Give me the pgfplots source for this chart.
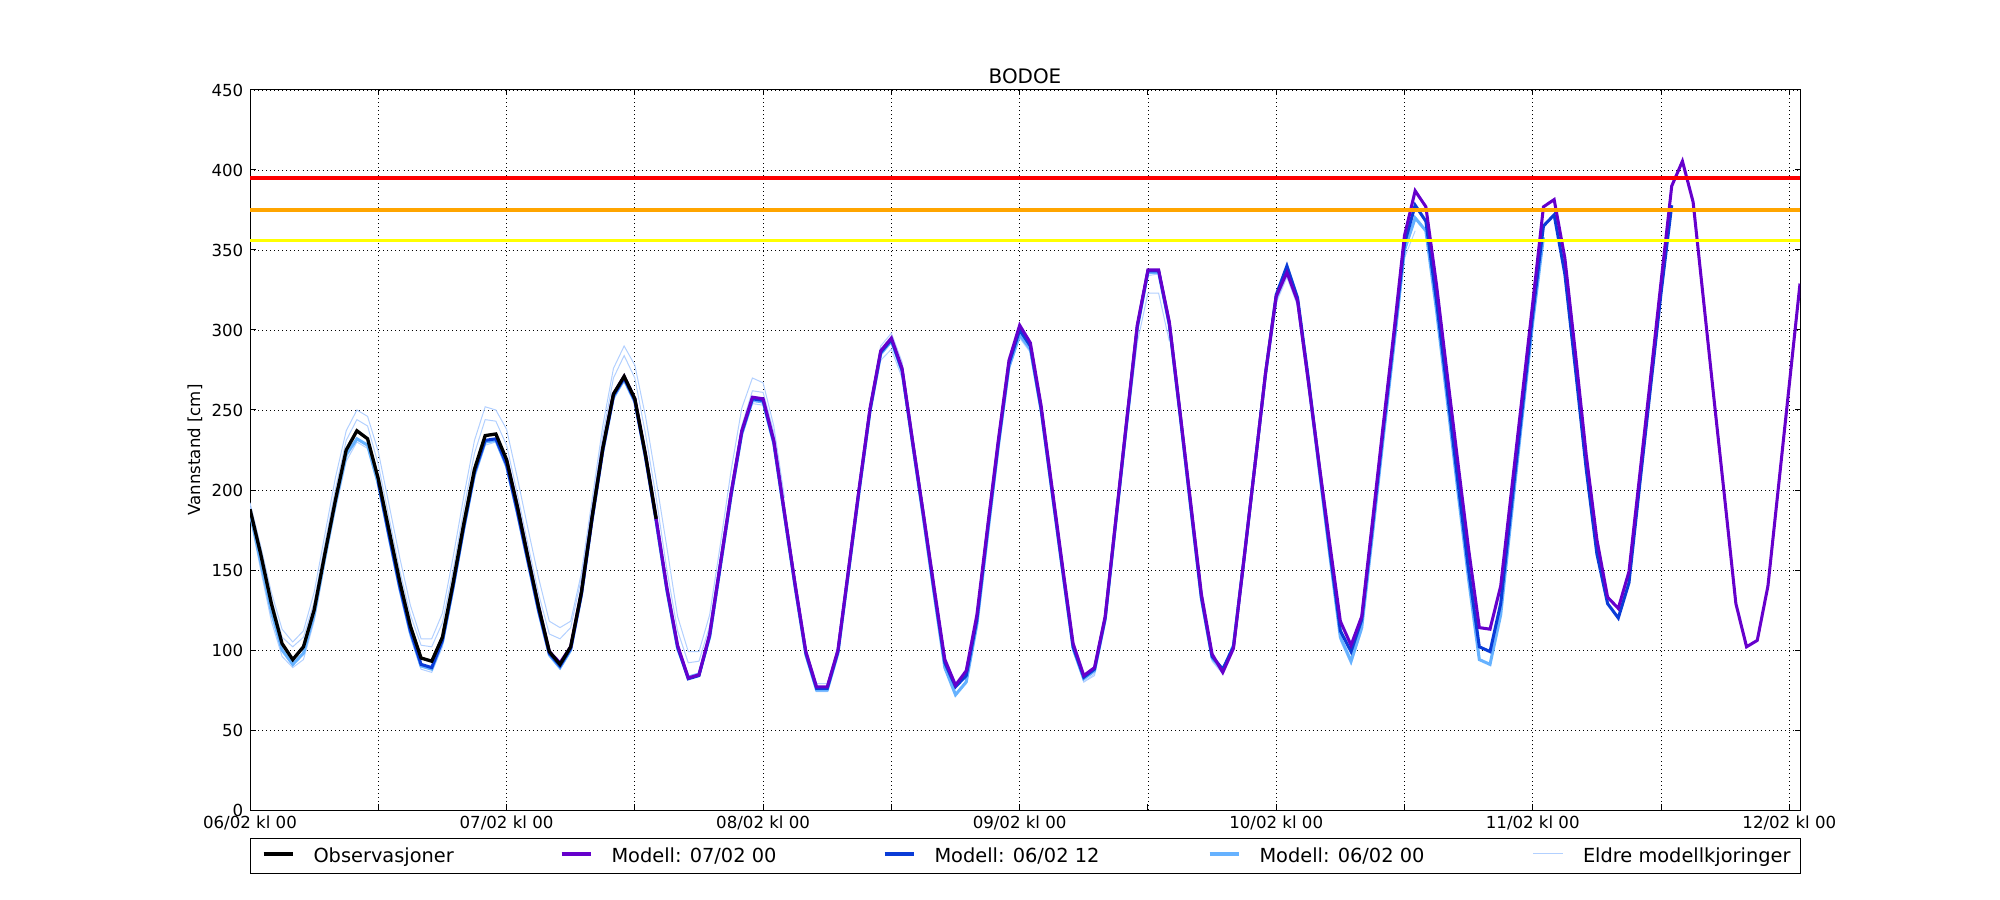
\documentclass[border=0pt]{standalone}
\usepackage{fontspec}
\setmainfont{DejaVu Sans}
\usepackage{pgfplots}
\pgfplotsset{compat=1.18}
\definecolor{cpurple}{RGB}{102,0,204}
\definecolor{cblue}{RGB}{10,60,215}
\definecolor{clight}{RGB}{102,178,255}
\definecolor{cold}{RGB}{178,208,255}
\definecolor{corange}{RGB}{255,165,0}
\definecolor{cyellow}{RGB}{255,255,0}
\begin{document}
\begin{tikzpicture}
\path[use as bounding box] (0,0) rectangle (20in,9in);
\begin{axis}[
  at={(2.5in,0.9in)}, anchor=south west,
  scale only axis, width=15.5in, height=7.2in,
  xmin=0, xmax=145, ymin=0, ymax=450,
  xtick={0,12,...,144},
  xticklabels={06/02 kl 00,,07/02 kl 00,,08/02 kl 00,,09/02 kl 00,,10/02 kl 00,,11/02 kl 00,,12/02 kl 00},
  ytick={0,50,...,450},
  tick align=inside,
  major tick length=0.055in,
  tick style={black, line width=0.72pt},
  axis line style={black, line width=0.72pt},
  grid=major,
  major grid style={black, line width=0.5pt, dash pattern=on 0.72pt off 2.2pt},
  tick label style={font=\fontsize{12}{14}\selectfont},
  /pgf/number format/assume math mode=true,
  yticklabel style={inner sep=0pt, xshift=-0.065in},
  xticklabel style={inner sep=0pt, yshift=-0.06in},
  title={BODOE},
  title style={at={(0.5,1)}, anchor=base, inner sep=0pt, yshift=-0.02in, font=\fontsize{14.4}{17}\selectfont},
  ylabel={Vannstand [cm]},
  ylabel style={at={(axis description cs:-0.0355,0.5)}, anchor=center, font=\fontsize{12}{14}\selectfont},
  legend columns=5,
  legend style={at={(0,0)}, anchor=north west, yshift=-0.28in, draw=black, line width=0.72pt,
    inner xsep=0pt, inner ysep=0pt, column sep=0pt,
    /tikz/every even column/.style={column sep=0pt},
    /tikz/every odd column/.style={column sep=0pt},
    cells={anchor=base west},
    nodes={inner sep=0pt, text height=0.24in, text depth=0.11in, font=\fontsize{14}{16}\selectfont}},
  legend image code/.code={\path[draw=none,fill=none] (-0.13in,0) -- (0.50in,0); \draw[#1] (0in,0.085in) -- (0.295in,0.085in);},
]
% legend entries (order as in reference)
\addlegendimage{black, line width=2.4pt}
\addlegendentry{\makebox[2.35in][l]{Observasjoner}}
\addlegendimage{cpurple, line width=2.2pt}
\addlegendentry{\makebox[2.60in][l]{Modell: 07/02 00}}
\addlegendimage{cblue, line width=2.2pt}
\addlegendentry{\makebox[2.62in][l]{Modell: 06/02 12}}
\addlegendimage{clight, line width=2.2pt}
\addlegendentry{\makebox[2.605in][l]{Modell: 06/02 00}}
\addlegendimage{cold, line width=0.72pt}
\addlegendentry{\makebox[2.17in][l]{Eldre modellkjoringer}}

% older model runs
\addplot[cold, line width=0.72pt, forget plot] coordinates {
(0,192) (1,165) (2,136) (3,113) (4,105) (5,112) (6,136) (7,172) (8,208) (9,237) (10,250) (11,246)
(12,224) (13,191) (14,158) (15,128) (16,107) (17,107) (18,123) (19,158) (20,196) (21,231) (22,252) (23,250)
(24,238) (25,208) (26,176) (27,145) (28,118) (29,114) (30,118) (31,148) (32,194) (33,240) (34,276) (35,290)
(36,278) (37,246) (38,206) (39,164) (40,121) (41,99) (42,99) (43,122) (44,166) (45,212) (46,251) (47,270)
(48,267) (49,240) (50,195)};
\addplot[cold, line width=0.72pt, forget plot] coordinates {
(0,190) (1,162) (2,132) (3,108) (4,102) (5,108) (6,130) (7,166) (8,201) (9,231) (10,244) (11,240)
(12,216) (13,183) (14,150) (15,122) (16,103) (17,102) (18,117) (19,150) (20,188) (21,223) (22,244) (23,243)
(24,228) (25,198) (26,166) (27,135) (28,110) (29,107) (30,114) (31,145) (32,190) (33,234) (34,270) (35,284)
(36,270) (37,235) (38,195) (39,150) (40,112) (41,92) (42,93) (43,115) (44,158) (45,202) (46,240) (47,262)
(48,261) (49,236) (50,190) (51,144) (52,101) (53,79) (54,79) (55,102) (56,152) (57,204) (58,254) (59,290)
(60,298) (61,280) (62,234) (63,188) (64,141) (65,96) (66,79) (67,86) (68,121) (69,176) (70,230) (71,280)
(72,300) (73,289) (74,250) (75,200) (76,150) (77,101) (78,80) (79,84) (80,117) (81,177) (82,236) (83,292)
(84,323) (85,323) (86,293)};
\addplot[cold, line width=0.72pt, forget plot] coordinates {
(0,184) (1,150) (2,118) (3,96) (4,89) (5,94) (6,118) (7,154) (8,188) (9,218) (10,230) (11,226)
(12,202) (13,168) (14,136) (15,108) (16,88) (17,86) (18,102) (19,136) (20,173) (21,207) (22,228) (23,230)
(24,213) (25,184) (26,153) (27,122) (28,96) (29,88) (30,99) (31,133) (32,179) (33,222) (34,256) (35,270)
(36,254) (37,219) (38,179) (39,136) (40,100) (41,82) (42,84) (43,107) (44,151) (45,195) (46,233) (47,254)
(48,253) (49,227) (50,182) (51,137) (52,96) (53,74) (54,74) (55,97) (56,148) (57,199) (58,248) (59,281)
(60,288) (61,270) (62,226) (63,180) (64,133) (65,88) (66,73) (67,79) (68,115) (69,170) (70,225) (71,275)
(72,295) (73,286) (74,248) (75,198) (76,148) (77,99) (78,80) (79,85) (80,118) (81,179) (82,240) (83,300)
(84,334) (85,335) (86,302) (87,246) (88,188) (89,131) (90,93) (91,85) (92,102) (93,157) (94,214) (95,270)
(96,317) (97,333) (98,315) (99,265) (100,211) (101,157) (102,106) (103,91) (104,112) (105,170) (106,229) (107,287)
(108,345) (109,362)};

% Modell 06/02 00
\addplot[clight, line width=2.2pt, forget plot] coordinates {
(0,186) (1,155) (2,124) (3,100) (4,91) (5,98) (6,122) (7,158) (8,192) (9,222) (10,232) (11,228)
(12,204) (13,171) (14,139) (15,111) (16,90) (17,88) (18,105) (19,139) (20,176) (21,210) (22,230) (23,231)
(24,215) (25,186) (26,155) (27,124) (28,97) (29,89) (30,100) (31,134) (32,181) (33,224) (34,258) (35,269)
(36,255) (37,220) (38,180) (39,137) (40,101) (41,83) (42,85) (43,108) (44,152) (45,196) (46,235) (47,256)
(48,255) (49,229) (50,184) (51,139) (52,97) (53,75) (54,75) (55,98) (56,149) (57,200) (58,249) (59,285)
(60,293) (61,274) (62,228) (63,182) (64,135) (65,89) (66,72) (67,80) (68,116) (69,172) (70,227) (71,277)
(72,297) (73,288) (74,250) (75,200) (76,150) (77,101) (78,82) (79,87) (80,119) (81,180) (82,241) (83,301)
(84,336) (85,336) (86,303) (87,247) (88,189) (89,132) (90,95) (91,87) (92,103) (93,158) (94,215) (95,272)
(96,320) (97,337) (98,318) (99,268) (100,214) (101,160) (102,108) (103,93) (104,114) (105,172) (106,232) (107,290)
(108,350) (109,370) (110,362) (111,312) (112,256) (113,199) (114,144) (115,94) (116,91) (117,122) (118,184) (119,245)
(120,305) (121,358)};

% Modell 06/02 12
\addplot[cblue, line width=2.2pt, forget plot] coordinates {
(12,205) (13,172) (14,140) (15,112) (16,91) (17,89) (18,106) (19,140) (20,177) (21,211) (22,231) (23,232)
(24,216) (25,187) (26,156) (27,125) (28,98) (29,90) (30,101) (31,135) (32,182) (33,225) (34,259) (35,270)
(36,256) (37,221) (38,181) (39,138) (40,102) (41,82) (42,84) (43,109) (44,153) (45,197) (46,236) (47,257)
(48,256) (49,230) (50,185) (51,140) (52,98) (53,76) (54,76) (55,99) (56,150) (57,201) (58,250) (59,286)
(60,294) (61,275) (62,229) (63,184) (64,137) (65,92) (66,77) (67,84) (68,119) (69,175) (70,229) (71,279)
(72,300) (73,290) (74,251) (75,201) (76,151) (77,102) (78,83) (79,88) (80,120) (81,181) (82,242) (83,302)
(84,337) (85,337) (86,304) (87,248) (88,190) (89,133) (90,96) (91,88) (92,102) (93,157) (94,215) (95,273)
(96,322) (97,340) (98,320) (99,270) (100,216) (101,163) (102,112) (103,99) (104,119) (105,177) (106,237) (107,295)
(108,354) (109,378) (110,368) (111,318) (112,262) (113,205) (114,150) (115,102) (116,99) (117,129) (118,190) (119,250)
(120,310) (121,365) (122,372) (123,335) (124,275) (125,213) (126,160) (127,129) (128,120) (129,142) (130,203) (131,263)
(132,323) (133,378)};

% Modell 07/02 00
\addplot[cpurple, line width=2.2pt, forget plot] coordinates {
(24,219) (25,190) (26,158) (27,127) (28,99) (29,92) (30,102) (31,136) (32,183) (33,226) (34,260) (35,271)
(36,257) (37,222) (38,182) (39,139) (40,103) (41,82.5) (42,84.5) (43,110) (44,154) (45,198) (46,237) (47,258)
(48,257) (49,231) (50,186) (51,141) (52,99) (53,77) (54,77) (55,100) (56,151) (57,202) (58,251) (59,287)
(60,295) (61,276) (62,230) (63,185) (64,139) (65,94) (66,78) (67,87) (68,122) (69,177) (70,231) (71,281)
(72,303) (73,292) (74,253) (75,203) (76,153) (77,104) (78,84) (79,89) (80,121) (81,182) (82,243) (83,303)
(84,337.5) (85,337.5) (86,305) (87,249) (88,192) (89,135) (90,97.5) (91,86) (92,101) (93,158) (94,215) (95,273)
(96,321) (97,336) (98,318) (99,268) (100,217) (101,167) (102,118) (103,103) (104,121) (105,180) (106,240) (107,298)
(108,359) (109,387) (110,377) (111,328) (112,272) (113,217) (114,163) (115,114) (116,113) (117,140) (118,199) (119,258)
(120,317) (121,377) (122,381.5) (123,345) (124,285) (125,222) (126,169) (127,133) (128,126) (129,149) (130,209) (131,269)
(132,330) (133,390) (134,405.5) (135,380) (136,317) (137,254) (138,192) (139,129) (140,102) (141,106) (142,140) (143,203)
(144,266) (145,329)};

% Observasjoner
\addplot[black, line width=2.4pt, forget plot] coordinates {
(0,188) (1,160) (2,129) (3,104) (4,94) (5,102) (6,125) (7,160) (8,194) (9,225) (10,237) (11,232)
(12,207) (13,175) (14,143) (15,115) (16,95) (17,93) (18,108) (19,142) (20,179) (21,213) (22,234) (23,235)
(24,219) (25,190) (26,158) (27,127) (28,99) (29,91) (30,102) (31,136) (32,183) (33,226) (34,260) (35,271)
(36,257) (37,222) (38,182)};

% thresholds
\addplot[cyellow, line width=2.2pt, forget plot] coordinates {(0,356) (145,356)};
\addplot[corange, line width=2.2pt, forget plot] coordinates {(0,375) (145,375)};
\addplot[red, line width=2.2pt, forget plot] coordinates {(0,395) (145,395)};
\end{axis}
\end{tikzpicture}
\end{document}
